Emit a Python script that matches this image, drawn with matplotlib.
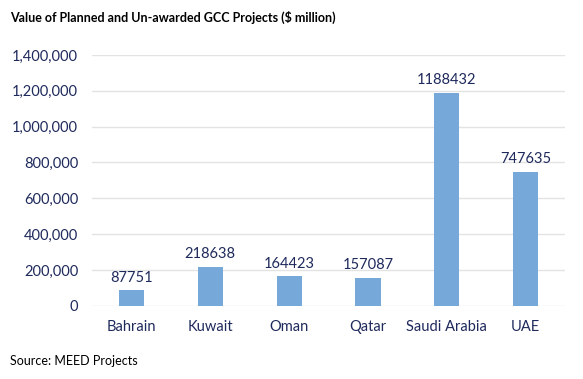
import matplotlib.pyplot as plt
from matplotlib.ticker import FuncFormatter

# data
countries = ["Bahrain", "Kuwait", "Oman", "Qatar", "Saudi Arabia", "UAE"]
values = [87751, 218638, 164423, 157087, 1188432, 747635]

text_color = "#1f2a5c"
bar_color = "#77a8da"

plt.rcParams["font.family"] = ["Lato", "DejaVu Sans"]

fig = plt.figure(figsize=(5.83, 3.79), dpi=100)
ax = fig.add_axes([0.158, 0.193, 0.811, 0.662])

x = range(len(countries))
bars = ax.bar(x, values, width=0.32, color=bar_color, zorder=3)
for xi, v in zip(x, values):
    ax.text(xi, v + 30000, str(v), ha="center", va="bottom", fontsize=10.5, color=text_color)

ax.set_xlim(-0.5, len(countries) - 0.5)
ax.set_ylim(0, 1400000)
ax.set_yticks(range(0, 1400001, 200000))
ax.yaxis.set_major_formatter(FuncFormatter(lambda v, p: f"{int(v):,}"))
ax.set_xticks(list(x))
ax.set_xticklabels(countries)
ax.tick_params(axis="both", length=0, labelsize=10.5, colors=text_color)
ax.tick_params(axis="x", pad=10)
ax.tick_params(axis="y", pad=10)
ax.grid(axis="y", color="#e3e3e3", linewidth=1, zorder=0)
for s in ax.spines.values():
    s.set_visible(False)

fig.text(0.017, 0.955, "Value of Planned and Un-awarded GCC Projects ($ million)",
         fontsize=9, fontweight="bold", color="black", va="center")
fig.text(0.017, 0.047, "Source: MEED Projects", fontsize=9, color="black", va="center")

fig.savefig("out.png", dpi=100)
